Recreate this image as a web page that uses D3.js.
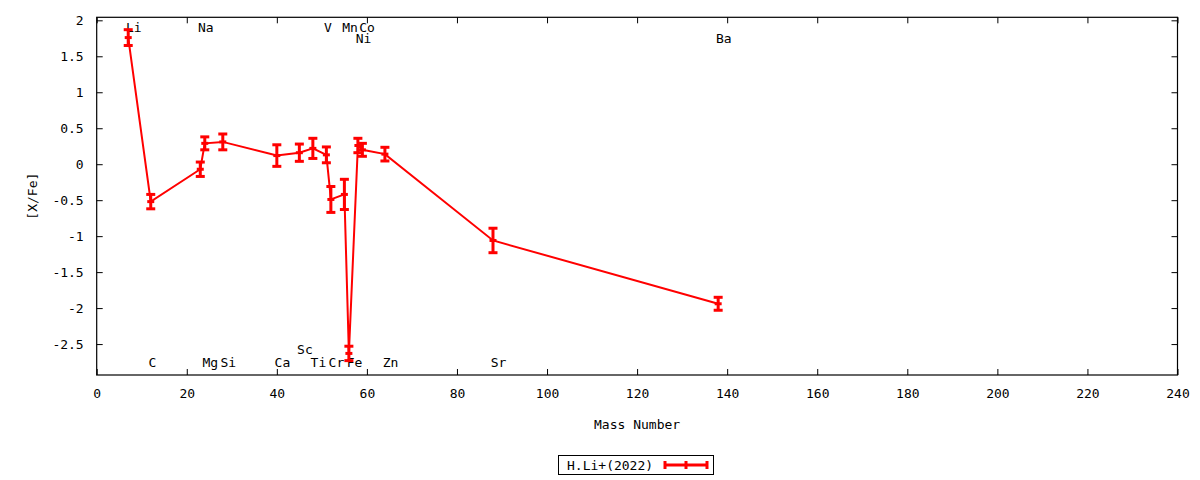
<!DOCTYPE html>
<html>
<head>
<meta charset="utf-8">
<script src="https://cdn.jsdelivr.net/npm/d3@7"></script>
<style>
  body { margin: 0; background: #fff; }
  svg text { font-family: "DejaVu Sans Mono", monospace; font-size: 13px; fill: #000; }
</style>
</head>
<body>
<svg id="chart" width="1200" height="480"></svg>
<script>
// data: mass number, [X/Fe], error
var elements = ["Li", "C", "Na", "Mg", "Si", "Ca", "Sc", "Ti", "V", "Cr", "Mn", "Fe", "Ni", "Co", "Zn", "Sr", "Ba"];
var massNumbers = [7, 12, 23, 24, 28, 40, 45, 48, 51, 52, 55, 56, 58, 59, 64, 88, 138];
var xfeValues = [1.76, -0.52, -0.07, 0.29, 0.31, 0.12, 0.16, 0.22, 0.13, -0.49, -0.42, -2.63, 0.26, 0.20, 0.14, -1.06, -1.94];
var xfeErrors = [0.11, 0.10, 0.10, 0.09, 0.11, 0.15, 0.12, 0.14, 0.11, 0.18, 0.21, 0.10, 0.10, 0.09, 0.095, 0.17, 0.09];

// element name labels (x, y in data units)
var labelNames = ["Li", "C", "Na", "Mg", "Si", "Ca", "Sc", "Ti", "V", "Cr", "Mn", "Fe", "Ni", "Co", "Zn", "Sr", "Ba"];
var labelX = [6.5, 11.5, 22.5, 23.5, 27.5, 39.5, 44.5, 47.5, 50.5, 51.5, 54.5, 55.5, 57.5, 58.3, 63.5, 87.5, 137.5];
var labelY = [1.9, -2.76, 1.9, -2.76, -2.76, -2.76, -2.57, -2.76, 1.9, -2.76, 1.9, -2.76, 1.75, 1.9, -2.76, -2.76, 1.75];

var xTicks = [0, 20, 40, 60, 80, 100, 120, 140, 160, 180, 200, 220, 240];
var yTicks = [-2.5, -2, -1.5, -1, -0.5, 0, 0.5, 1, 1.5, 2];
var seriesName = "H.Li+(2022)";

var svg = d3.select("#chart");
var plotLeft = 96.7, plotRight = 1177.5, plotTop = 17.3, plotBottom = 375;
var red = "#ff0000";

var x = d3.scaleLinear().domain([0, 240]).range([plotLeft, plotRight]);
var y = d3.scaleLinear().domain([-2.93, 2.042]).range([plotBottom, plotTop]);

//Axes with inward ticks, mirrored on top/right
var tickLen = 6;
svg.append("g").attr("transform", "translate(0," + plotBottom + ")")
    .call(d3.axisBottom(x).tickValues(xTicks).tickSize(-tickLen).tickPadding(14).tickFormat(d3.format("d")));
svg.append("g").attr("transform", "translate(0," + plotTop + ")")
    .call(d3.axisTop(x).tickValues(xTicks).tickSize(-tickLen).tickFormat(""));
svg.append("g").attr("transform", "translate(" + plotLeft + ",0)")
    .call(d3.axisLeft(y).tickValues(yTicks).tickSize(-tickLen).tickPadding(13).tickFormat(function(d) { return String(d); }));
svg.append("g").attr("transform", "translate(" + plotRight + ",0)")
    .call(d3.axisRight(y).tickValues(yTicks).tickSize(-tickLen).tickFormat(""));
svg.selectAll(".domain").remove();
svg.selectAll(".tick line").attr("stroke", "#000").attr("stroke-width", 1);
svg.selectAll(".tick text").style("font-family", "DejaVu Sans Mono").style("font-size", "13px").attr("fill", "#000");

svg.append("rect").attr("x", plotLeft).attr("y", plotTop).attr("width", plotRight - plotLeft).attr("height", plotBottom - plotTop)
    .attr("fill", "none").attr("stroke", "#000").attr("stroke-width", 1.2);

//Axis titles
svg.append("text").attr("x", (plotLeft + plotRight) / 2).attr("y", 429).attr("text-anchor", "middle").text("Mass Number");
svg.append("text").attr("transform", "translate(37," + (plotTop + plotBottom) / 2 + ") rotate(-90)")
    .attr("text-anchor", "middle").text("[X/Fe]");

//Element labels
svg.append("g").selectAll("text").data(labelNames).join("text")
    .attr("x", function(d, i) { return x(labelX[i]); })
    .attr("y", function(d, i) { return y(labelY[i]); })
    .attr("dy", "0.35em")
    .text(function(d) { return d; });

var points = massNumbers.map(function(m, i) {
    return { m: m, v: xfeValues[i], e: xfeErrors[i], name: elements[i] };
});

//Connecting line
svg.append("path").datum(points)
    .attr("d", d3.line().x(function(d) { return x(d.m); }).y(function(d) { return y(d.v); }))
    .attr("fill", "none").attr("stroke", red).attr("stroke-width", 2);

//Error bars
var cap = 4.5;
var bars = svg.append("g").selectAll("g").data(points).join("g");
bars.append("line")
    .attr("x1", function(d) { return x(d.m); }).attr("x2", function(d) { return x(d.m); })
    .attr("y1", function(d) { return y(d.v + d.e); }).attr("y2", function(d) { return y(d.v - d.e); })
    .attr("stroke", red).attr("stroke-width", 3);
bars.append("line")
    .attr("x1", function(d) { return x(d.m) - cap; }).attr("x2", function(d) { return x(d.m) + cap; })
    .attr("y1", function(d) { return y(d.v + d.e); }).attr("y2", function(d) { return y(d.v + d.e); })
    .attr("stroke", red).attr("stroke-width", 3);
bars.append("line")
    .attr("x1", function(d) { return x(d.m) - cap; }).attr("x2", function(d) { return x(d.m) + cap; })
    .attr("y1", function(d) { return y(d.v - d.e); }).attr("y2", function(d) { return y(d.v - d.e); })
    .attr("stroke", red).attr("stroke-width", 3);
//point marker (+)
bars.append("line")
    .attr("x1", function(d) { return x(d.m) - 3.5; }).attr("x2", function(d) { return x(d.m) + 3.5; })
    .attr("y1", function(d) { return y(d.v); }).attr("y2", function(d) { return y(d.v); })
    .attr("stroke", red).attr("stroke-width", 3);

//Legend
var leg = svg.append("g");
leg.append("rect").attr("x", 558.5).attr("y", 455.5).attr("width", 155).attr("height", 19)
    .attr("fill", "#fff").attr("stroke", "#000").attr("stroke-width", 1);
leg.append("text").attr("x", 567).attr("y", 465).attr("dy", "0.35em").text(seriesName);
leg.append("line").attr("x1", 665).attr("x2", 707).attr("y1", 465).attr("y2", 465)
    .attr("stroke", red).attr("stroke-width", 3);
[665, 686, 707].forEach(function(px) {
    leg.append("line").attr("x1", px).attr("x2", px).attr("y1", 461).attr("y2", 469)
        .attr("stroke", red).attr("stroke-width", 3);
});
</script>
</body>
</html>
